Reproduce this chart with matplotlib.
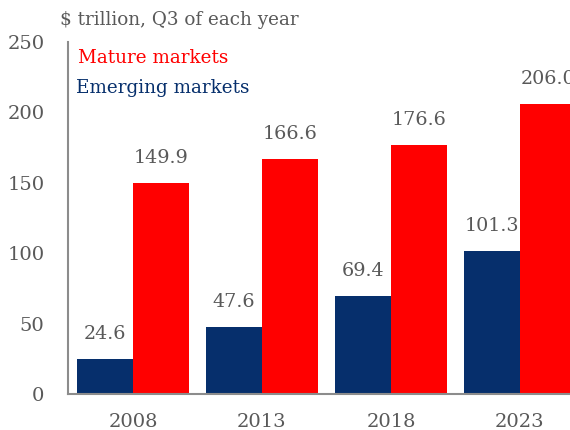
import matplotlib.pyplot as plt
import numpy as np

years = ['2008', '2013', '2018', '2023']
emerging = [24.6, 47.6, 69.4, 101.3]
mature = [149.9, 166.6, 176.6, 206.0]

NAVY = '#062f6c'
RED = '#ff0000'
GREY = '#595959'

plt.rcParams['font.family'] = 'DejaVu Serif'

fig = plt.figure(figsize=(5.7, 4.3), dpi=100)
ax = fig.add_axes([0.1193, 0.0837, 0.8807, 0.8186])

x = np.arange(len(years))
w = 0.434
ax.bar(x - w / 2, emerging, w, color=NAVY, linewidth=0)
ax.bar(x + w / 2, mature, w, color=RED, linewidth=0)

for xi, v in zip(x, emerging):
    ax.text(xi - w / 2, v + 18, f'{v:.1f}', ha='center', va='center',
            fontsize=13.8, color=GREY)
for xi, v in zip(x, mature):
    ax.text(xi + w / 2, v + 18, f'{v:.1f}', ha='center', va='center',
            fontsize=13.8, color=GREY)

ax.set_xlim(-0.504, 3.388)
ax.set_ylim(0, 250)
ax.set_xticks(x)
ax.set_xticklabels(years)
ax.set_yticks([0, 50, 100, 150, 200, 250])
ax.tick_params(axis='both', length=0, labelsize=14, labelcolor=GREY)
ax.tick_params(axis='x', pad=14)
ax.tick_params(axis='y', pad=17)

for s in ['top', 'right']:
    ax.spines[s].set_visible(False)
for s in ['left', 'bottom']:
    ax.spines[s].set_color('#8c8c8c')
    ax.spines[s].set_linewidth(1.5)

fig.text(60 / 570, 1 - 20 / 430, '$ trillion, Q3 of each year', ha='left',
         va='center', fontsize=13.2, color=GREY)
fig.text(78 / 570, 1 - 58 / 430, 'Mature markets', ha='left', va='center',
         fontsize=13.2, color=RED)
fig.text(76 / 570, 1 - 88 / 430, 'Emerging markets', ha='left', va='center',
         fontsize=13.2, color=NAVY)

fig.savefig('out.png', dpi=100)
